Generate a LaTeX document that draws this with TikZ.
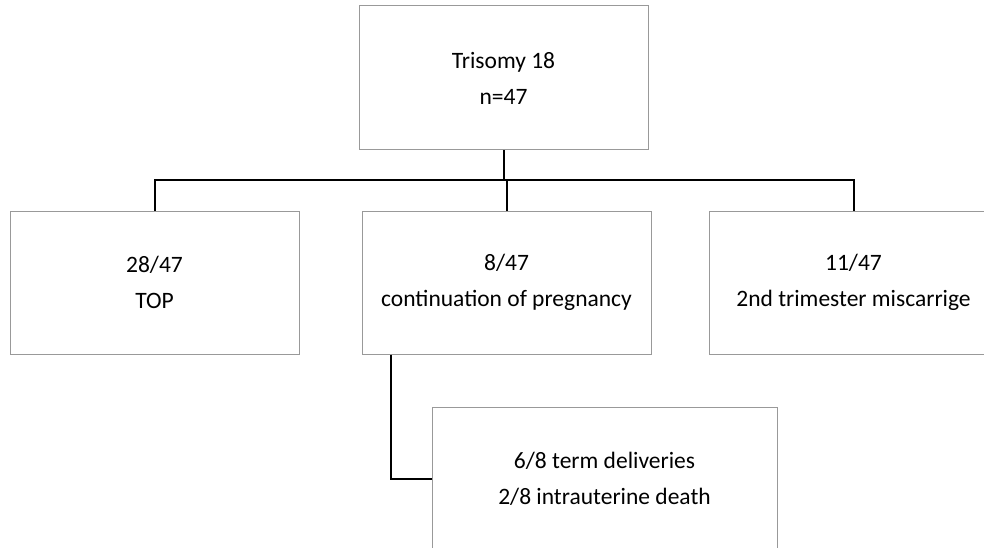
\documentclass[tikz,border=0pt]{standalone}
\usepackage{fontspec}
\setmainfont{Carlito}
\begin{document}
\begin{tikzpicture}[x=1pt,y=-1pt,
  box/.style={draw=black!40, line width=1pt, minimum width=289pt, minimum height=143pt,
    inner sep=0pt, align=center, font=\fontsize{23.5}{36}\selectfont},
  conn/.style={draw=black, line width=2pt}]
\useasboundingbox (0,0) rectangle (984,548);
\clip (0,0) rectangle (984,548);
\node[box, minimum height=144pt] (top) at (503.5,78) {Trisomy 18\\n=47};
\node[box] (left) at (154.5,282.5) {28/47\\TOP};
\node[box] (mid) at (506.5,282.5) {8/47\\continuation of pregnancy};
\node[box] (right) at (853.5,282.5) {11/47\\2nd trimester miscarrige};
\node[box, minimum width=345pt, minimum height=143pt] (bottom) at (604.5,478.5) {6/8 term deliveries\\2/8 intrauterine death};
\coordinate (bus) at (0,180);
\draw[conn] (top.south) -- (top.south |- bus);
\draw[conn] (left.north) -- (left.north |- bus) -- (right.north |- bus) -- (right.north);
\draw[conn] (mid.north |- bus) -- (mid.north);
\coordinate (tap) at ([xshift=29pt]mid.south west);
\draw[conn] (tap) |- (bottom.west);
\end{tikzpicture}
\end{document}
